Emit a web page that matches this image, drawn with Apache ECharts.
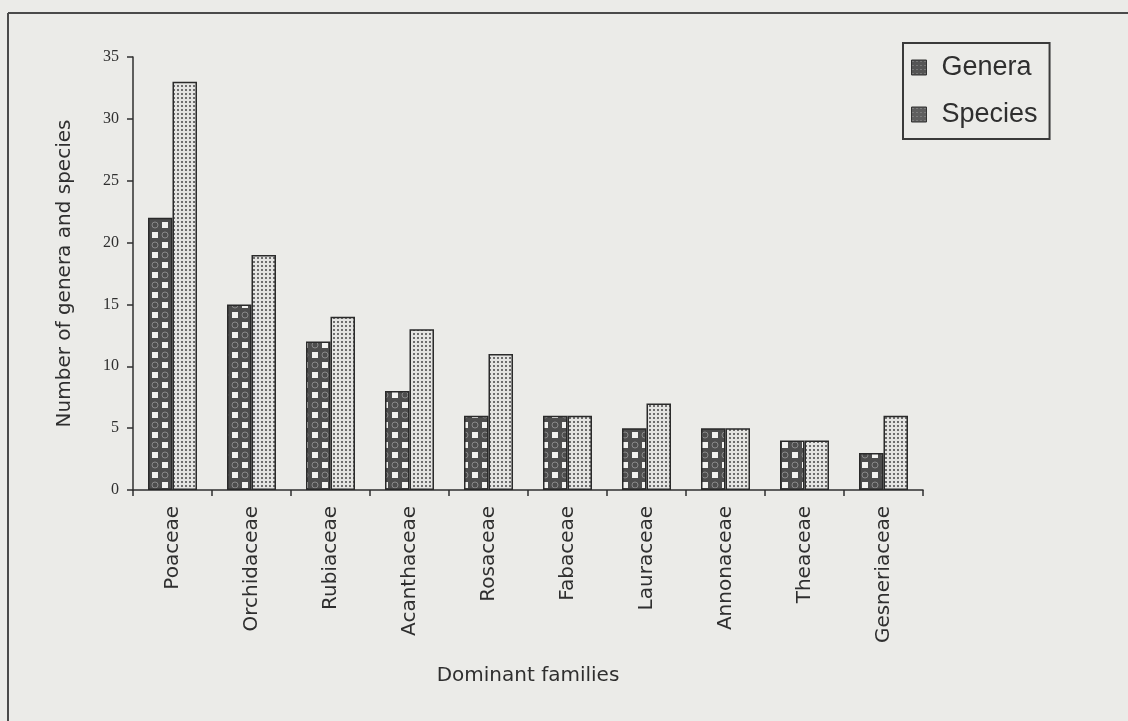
<!DOCTYPE html>
<html>
<head>
<meta charset="utf-8">
<script src="https://cdn.jsdelivr.net/npm/echarts@6/dist/echarts.min.js"></script>
<style>
html,body{margin:0;padding:0;background:#ebebe8;}
#chart{width:1128px;height:721px;}
</style>
</head>
<body>
<div id="chart"></div>
<script>
const families = ["Poaceae","Orchidaceae","Rubiaceae","Acanthaceae","Rosaceae","Fabaceae","Lauraceae","Annonaceae","Theaceae","Gesneriaceae"];
const genera = [22,15,12,8,6,6,5,5,4,3];
const species = [33,19,14,13,11,6,7,5,4,6];
const yTicks = [0,5,10,15,20,25,30,35];

function generaPattern(){
  const c=document.createElement('canvas');c.width=20;c.height=20;
  const g=c.getContext('2d');
  g.fillStyle='#4d4d4d';g.fillRect(0,0,20,20);
  g.strokeStyle='#8a8a8a';g.lineWidth=1;
  g.beginPath();g.arc(5,15,3,0,Math.PI*2);g.stroke();
  g.beginPath();g.arc(15,5,3,0,Math.PI*2);g.stroke();
  g.fillStyle='#f2f2f0';
  g.fillRect(2,2,6,6);
  g.fillRect(12,12,6,6);
  return c;
}
function speciesPattern(){
  const c=document.createElement('canvas');c.width=4;c.height=4;
  const g=c.getContext('2d');
  g.fillStyle='#e4e4e2';g.fillRect(0,0,4,4);
  g.fillStyle='#6e6e6e';
  g.fillRect(1,1,2,2);
  return c;
}
function legendPattern(dark){
  const c=document.createElement('canvas');c.width=4;c.height=4;
  const g=c.getContext('2d');
  g.fillStyle=dark;g.fillRect(0,0,4,4);
  g.fillStyle='#9a9a9a';
  g.fillRect(1,1,1,1);
  return c;
}

const chart=echarts.init(document.getElementById('chart'),null,{renderer:'canvas'});
const axisColor='#2f2f2f';
chart.setOption({
  backgroundColor:'#ebebe8',
  animation:false,
  grid:{left:133,right:205,top:57,bottom:231},
  legend:{
    orient:'vertical',left:903,top:43,
    padding:[11,12,11,8],
    itemGap:20,itemWidth:15,itemHeight:15,
    borderColor:'#3a3a3a',borderWidth:2,
    icon:'rect',
    textStyle:{fontFamily:'Liberation Sans, Arial, sans-serif',fontSize:27,lineHeight:27,color:'#2f2f2f',padding:[0,0,0,10]},
    data:[
      {name:'Genera',itemStyle:{color:{image:legendPattern('#555'),repeat:'repeat'},borderColor:'#333',borderWidth:1}},
      {name:'Species',itemStyle:{color:{image:legendPattern('#5e5e5e'),repeat:'repeat'},borderColor:'#333',borderWidth:1}}
    ]
  },
  xAxis:{
    type:'category',data:families,
    name:'Dominant families',nameLocation:'middle',nameGap:176,
    nameTextStyle:{fontFamily:'DejaVu Sans, sans-serif',fontSize:20,color:'#2f2f2f'},
    axisLine:{lineStyle:{color:axisColor,width:1.5}},
    axisTick:{show:true,length:6,lineStyle:{color:axisColor,width:1.5}},
    axisLabel:{rotate:90,margin:16,fontFamily:'DejaVu Sans, sans-serif',fontSize:20,color:'#2f2f2f'}
  },
  yAxis:{
    type:'value',min:0,max:35,interval:5,
    name:'Number of genera and species',nameLocation:'middle',nameGap:58,
    nameTextStyle:{fontFamily:'DejaVu Sans, sans-serif',fontSize:20,color:'#2f2f2f'},
    axisLine:{show:true,lineStyle:{color:axisColor,width:1.5}},
    axisTick:{show:true,length:6,lineStyle:{color:axisColor,width:1.5}},
    splitLine:{show:false},
    axisLabel:{margin:14,fontFamily:'Liberation Serif, serif',fontSize:16,color:'#2f2f2f',
      formatter:function(v){return yTicks.indexOf(v)>=0?String(v):'';}}
  },
  graphic:[
    {type:'line',shape:{x1:8,y1:13,x2:1128,y2:13},style:{stroke:'#4a4a4a',lineWidth:2},z:100},
    {type:'line',shape:{x1:8,y1:13,x2:8,y2:721},style:{stroke:'#4a4a4a',lineWidth:2},z:100}
  ],
  series:[
    {name:'Genera',type:'bar',data:genera,barGap:'0%',barCategoryGap:'38%',
     itemStyle:{color:{image:generaPattern(),repeat:'repeat'},borderColor:'#2a2a2a',borderWidth:1.5}},
    {name:'Species',type:'bar',data:species,
     itemStyle:{color:{image:speciesPattern(),repeat:'repeat'},borderColor:'#2a2a2a',borderWidth:1.5}}
  ]
});
</script>
</body>
</html>
